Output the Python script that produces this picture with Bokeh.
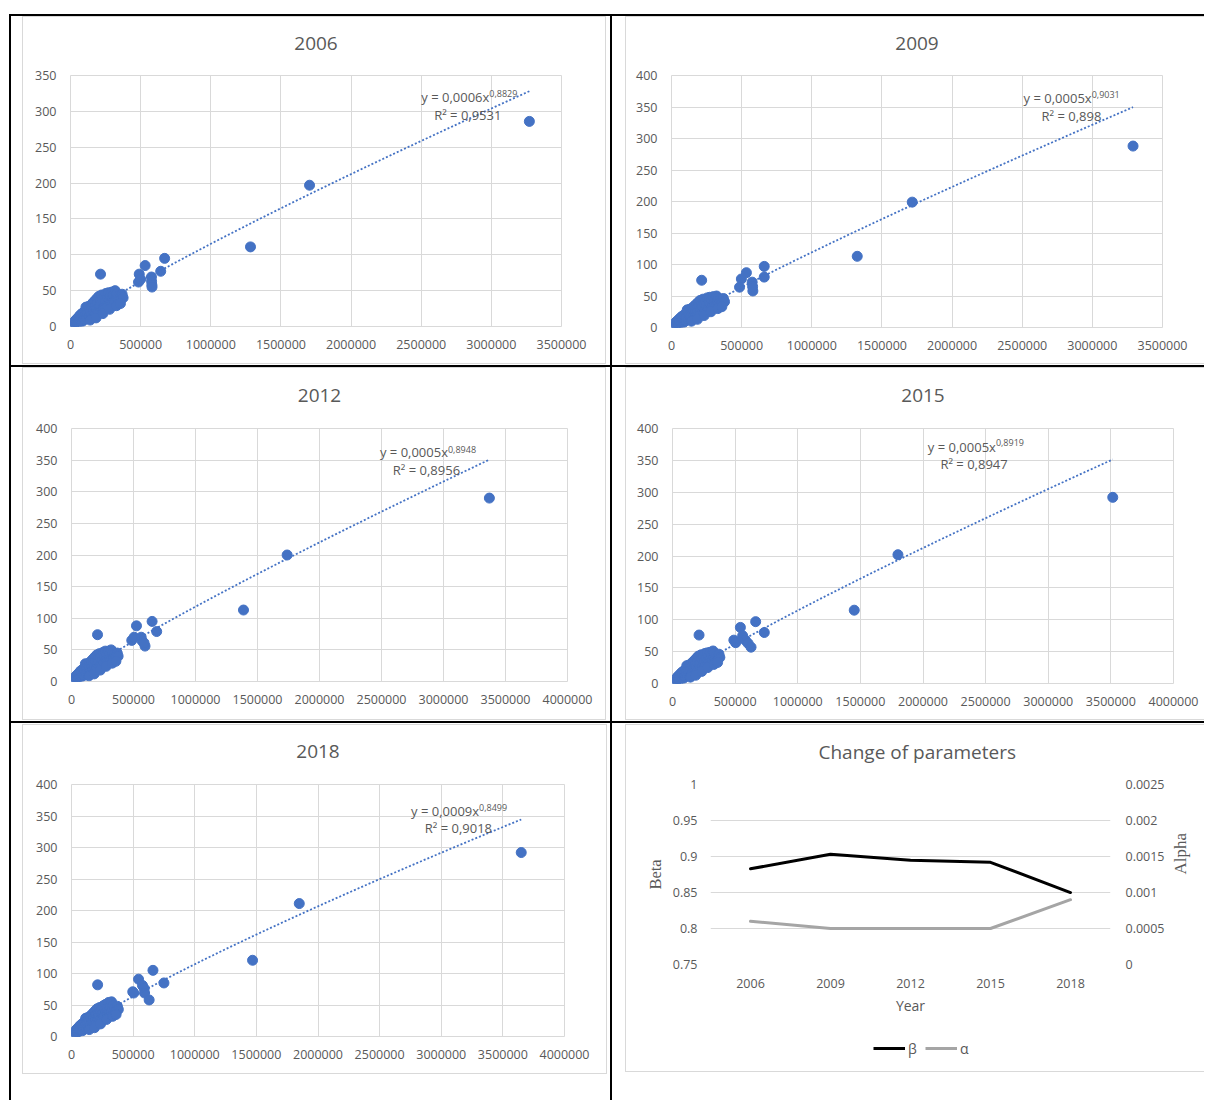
import math
import numpy as np
from bokeh.plotting import figure
from bokeh.models import (Range1d, LinearAxis, Legend, LegendItem, Label, Title,
                          FixedTicker, NumeralTickFormatter)
from bokeh.layouts import row, column
from bokeh.embed import file_html
from bokeh.resources import INLINE

FONT = "Open Sans"
SERIF = "Liberation Serif"
TXT = "#595959"
GRID = "#d9d9d9"
BLUE = "#4472c4"

# ---------------- data (x in thousands, y values) ----------------
x2006_k = [12, 18, 22, 28, 33, 38, 42, 48, 52, 57, 62, 66, 71, 75, 80, 84, 88, 93, 97, 102,
           106, 110, 114, 119, 123, 128, 132, 137, 141, 146, 150, 155, 160, 164, 169, 174, 178, 183, 188, 192,
           197, 202, 206, 211, 216, 222, 228, 234, 240, 246, 252, 258, 264, 270, 276, 282, 288, 294, 300, 306,
           312, 318, 324, 330, 338, 345, 352, 360, 368, 375, 140, 182, 231, 279, 328, 356,
           214, 490, 485, 500, 532, 577, 578, 580, 581, 643, 671, 1283, 1704, 3271]
y2006 = [3, 5, 2, 7, 4, 9, 6, 11, 5, 13, 8, 15, 10, 17, 12, 7, 19, 14, 10, 21,
         16, 27, 12, 23, 18, 28, 14, 25, 20, 30, 16, 27, 33, 22, 18, 36, 29, 24, 39, 33,
         20, 42, 28, 36, 31, 44, 38, 26, 41, 34, 46, 30, 40, 47, 36, 43, 33, 48, 39, 44,
         35, 50, 41, 46, 38, 43, 36, 41, 45, 40, 9, 12, 18, 24, 29, 32,
         73, 73, 62, 66, 85, 69, 63, 58, 55, 77, 95, 111, 197, 286]

x2009_k = [14, 19, 24, 29, 34, 39, 44, 49, 54, 58, 63, 67, 72, 77, 81, 86, 90, 95, 99, 104,
           108, 112, 117, 121, 126, 130, 135, 139, 144, 148, 153, 158, 162, 167, 172, 176, 181, 186, 190, 195,
           200, 204, 209, 214, 219, 225, 231, 237, 243, 249, 255, 261, 267, 273, 279, 285, 291, 297, 303, 309,
           315, 321, 327, 333, 340, 347, 354, 362, 370, 378, 142, 185, 233, 281, 330, 359,
           215, 498, 485, 534, 575, 580, 578, 661, 661, 1324, 1716, 3290]
y2009 = [4, 6, 2, 8, 5, 10, 6, 12, 6, 14, 9, 16, 11, 18, 13, 8, 20, 15, 11, 22,
         17, 28, 13, 24, 19, 29, 15, 26, 21, 31, 17, 28, 34, 23, 19, 37, 30, 25, 40, 34,
         21, 43, 29, 37, 32, 45, 39, 27, 42, 35, 47, 31, 41, 48, 37, 44, 34, 49, 40, 45,
         36, 50, 42, 47, 39, 44, 37, 42, 46, 41, 10, 13, 19, 25, 30, 33,
         75, 77, 64, 87, 72, 58, 65, 97, 80, 113, 199, 288]

x2012_k = [13, 18, 23, 28, 33, 38, 43, 48, 53, 58, 62, 67, 72, 76, 81, 85, 90, 94, 99, 103,
           108, 112, 116, 121, 125, 130, 134, 139, 143, 148, 152, 157, 162, 166, 171, 176, 180, 185, 190, 194,
           199, 204, 208, 213, 218, 224, 230, 236, 242, 248, 254, 260, 266, 272, 278, 284, 290, 296, 302, 308,
           314, 320, 326, 332, 339, 346, 353, 361, 369, 376, 141, 183, 232, 280, 329, 358,
           210, 486, 524, 505, 562, 570, 593, 585, 650, 687, 1387, 1739, 3370]
y2012 = [3, 5, 2, 7, 4, 9, 6, 11, 6, 13, 8, 15, 10, 17, 12, 8, 19, 14, 10, 21,
         16, 28, 12, 23, 18, 28, 14, 25, 20, 30, 16, 27, 33, 22, 18, 36, 29, 24, 39, 33,
         20, 42, 28, 36, 31, 44, 38, 26, 41, 34, 46, 30, 40, 48, 36, 43, 33, 48, 39, 44,
         35, 50, 41, 46, 38, 43, 36, 41, 45, 40, 9, 12, 18, 24, 29, 32,
         74, 65, 88, 70, 70, 64, 56, 61, 95, 79, 113, 200, 290]

x2015_k = [14, 19, 24, 29, 34, 39, 44, 49, 54, 59, 63, 68, 73, 78, 82, 87, 91, 96, 100, 105,
           109, 114, 118, 123, 127, 132, 136, 141, 145, 150, 155, 160, 164, 169, 174, 179, 183, 188, 193, 197,
           202, 207, 212, 217, 222, 228, 234, 240, 246, 252, 258, 264, 270, 276, 282, 288, 294, 300, 306, 312,
           318, 324, 330, 336, 343, 350, 357, 364, 371, 378, 143, 186, 234, 282, 331, 360,
           212, 490, 505, 542, 560, 581, 603, 627, 664, 733, 1451, 1800, 3515]
y2015 = [4, 6, 3, 8, 5, 10, 7, 12, 6, 14, 9, 16, 11, 18, 13, 8, 20, 15, 11, 22,
         17, 28, 13, 24, 19, 29, 15, 26, 21, 31, 17, 28, 34, 23, 19, 37, 30, 25, 40, 34,
         21, 43, 29, 37, 32, 45, 39, 27, 42, 35, 47, 31, 41, 48, 37, 44, 34, 49, 40, 45,
         36, 51, 42, 47, 39, 44, 37, 42, 46, 41, 10, 13, 19, 25, 30, 33,
         76, 68, 64, 88, 75, 68, 63, 57, 97, 80, 115, 202, 292]

x2018_k = [15, 20, 25, 30, 35, 40, 45, 50, 55, 60, 64, 69, 74, 79, 83, 88, 92, 97, 101, 106,
           110, 115, 119, 124, 128, 133, 137, 142, 146, 151, 156, 161, 165, 170, 175, 180, 184, 189, 194, 198,
           203, 208, 213, 218, 223, 229, 235, 241, 247, 253, 259, 265, 271, 277, 283, 289, 295, 301, 307, 313,
           319, 325, 331, 337, 344, 351, 358, 365, 372, 380, 144, 187, 236, 284, 333, 362,
           212, 497, 505, 544, 576, 590, 593, 630, 661, 750, 1469, 1848, 3649]
y2018 = [4, 6, 3, 9, 5, 11, 7, 13, 7, 15, 10, 17, 12, 19, 14, 9, 21, 16, 12, 23,
         18, 29, 14, 25, 20, 30, 16, 27, 22, 32, 18, 29, 35, 24, 20, 38, 31, 26, 41, 35,
         22, 44, 30, 38, 33, 46, 40, 28, 44, 36, 49, 32, 43, 51, 39, 46, 36, 54, 42, 47,
         38, 55, 44, 49, 41, 46, 39, 44, 48, 43, 11, 14, 20, 27, 32, 35,
         82, 71, 69, 91, 81, 76, 69, 58, 105, 85, 121, 211, 292]

# power trendline parameters y = a * x^b
trend_a = [0.000581, 0.000455, 0.000506, 0.00051, 0.000912]
trend_b = [0.8829, 0.9031, 0.8948, 0.8919, 0.8499]
eq_texts = ["y = 0,0006x", "y = 0,0005x", "y = 0,0005x", "y = 0,0005x", "y = 0,0009x"]
exp_texts = ["0,8829", "0,9031", "0,8948", "0,8919", "0,8499"]
r2_texts = ["R² = 0,9531", "R² = 0,898", "R² = 0,8956", "R² = 0,8947", "R² = 0,9018"]

# parameter chart
years = [2006, 2009, 2012, 2015, 2018]
beta = [0.8829, 0.9031, 0.8948, 0.8919, 0.8499]
alpha = [0.0006, 0.0005, 0.0005, 0.0005, 0.0009]

x_ticks_35 = [0, 500000, 1000000, 1500000, 2000000, 2500000, 3000000, 3500000]
x_ticks_40 = [0, 500000, 1000000, 1500000, 2000000, 2500000, 3000000, 3500000, 4000000]
y_ticks_350 = [0, 50, 100, 150, 200, 250, 300, 350]
y_ticks_400 = [0, 50, 100, 150, 200, 250, 300, 350, 400]
beta_ticks = [0.75, 0.8, 0.85, 0.9, 0.95, 1.0]
alpha_ticks = [0, 0.0005, 0.001, 0.0015, 0.002, 0.0025]


def style_axis(ax, standoff, size="12.5px"):
    ax.axis_line_color = None
    ax.major_tick_line_color = None
    ax.minor_tick_line_color = None
    ax.major_label_text_font = FONT
    ax.major_label_text_font_size = size
    ax.major_label_text_color = TXT
    ax.major_label_standoff = standoff


def spacer(gap):
    return Title(text=".", text_font_size="1px", text_color="white", standoff=gap)


def add_title(p, text, gap, align="center", offset=0):
    p.title.text = ""
    p.add_layout(spacer(gap), "above")
    p.add_layout(Title(text=text, align=align, offset=offset, text_font=FONT,
                       text_font_size="19px", text_font_style="normal", text_color=TXT,
                       standoff=0), "above")


def scatter_panel(i, title, xk, yv, xticks, yticks, fw, fh, bl, br, bt, bb,
                  eq_xy, exp_y, r2_xy, tgap):
    xs = [v * 1000 for v in xk]
    p = figure(output_backend="svg", toolbar_location=None,
               frame_width=fw, frame_height=fh,
               min_border_left=bl, min_border_right=br,
               min_border_top=bt, min_border_bottom=bb,
               x_range=Range1d(0, xticks[-1]), y_range=Range1d(0, yticks[-1]))
    p.background_fill_color = "white"
    p.border_fill_color = "white"
    p.outline_line_color = GRID
    add_title(p, title, tgap)
    xt = FixedTicker(ticks=xticks)
    yt = FixedTicker(ticks=yticks)
    p.xaxis[0].ticker = xt
    p.yaxis[0].ticker = yt
    p.xgrid[0].ticker = xt
    p.ygrid[0].ticker = yt
    p.xaxis[0].formatter = NumeralTickFormatter(format="0")
    p.yaxis[0].formatter = NumeralTickFormatter(format="0")
    style_axis(p.xaxis[0], 7)
    style_axis(p.yaxis[0], 8)
    for g in (p.xgrid[0], p.ygrid[0]):
        g.grid_line_color = GRID
        g.grid_line_width = 1
    p.scatter(xs, yv, size=10, fill_color=BLUE, line_color=BLUE)
    tx = np.linspace(min(xs), max(xs), 120)
    ty = trend_a[i] * tx ** trend_b[i]
    p.line(tx, ty, line_color=BLUE, line_width=1.8, line_dash="2 2")
    p.add_layout(Label(x=eq_xy[0], y=eq_xy[1], text=eq_texts[i], text_align="right",
                       text_baseline="middle", text_font=FONT, text_font_size="13px",
                       text_color=TXT))
    p.add_layout(Label(x=eq_xy[0], y=exp_y, text=exp_texts[i], text_align="left",
                       text_baseline="middle", text_font=FONT, text_font_size="9px",
                       text_color=TXT))
    p.add_layout(Label(x=r2_xy[0], y=r2_xy[1], text=r2_texts[i], text_align="center",
                       text_baseline="middle", text_font=FONT, text_font_size="13px",
                       text_color=TXT))
    return p


p1 = scatter_panel(0, "2006", x2006_k, y2006, x_ticks_35, y_ticks_350, 491, 251, 47, 44, 58, 37,
                   (2985700, 320.6), 325.2, (2832000, 295), 23)
p2 = scatter_panel(1, "2009", x2009_k, y2009, x_ticks_35, y_ticks_400, 491, 252, 45, 42, 58, 36,
                   (2995000, 363.9), 369.8, (2851000, 336.4), 23)
p3 = scatter_panel(2, "2012", x2012_k, y2012, x_ticks_40, y_ticks_400, 496, 253, 48, 38, 60, 38,
                   (3036000, 363.2), 367.4, (2862600, 334.2), 24)
p4 = scatter_panel(3, "2015", x2015_k, y2015, x_ticks_40, y_ticks_400, 501, 255, 46, 31, 60, 36,
                   (2582000, 371.4), 378.1, (2407800, 344.2), 24)
p5 = scatter_panel(4, "2018", x2018_k, y2018, x_ticks_40, y_ticks_400, 493, 252, 48, 42, 59, 37,
                   (3307000, 357.5), 363.9, (3139000, 330.5), 24)

# ---------------- parameter chart ----------------
p6 = figure(output_backend="svg", toolbar_location=None,
            width=578, height=294,
            min_border_left=84, min_border_right=94, min_border_top=59, min_border_bottom=55,
            x_range=Range1d(2004.5, 2019.5), y_range=Range1d(0.75, 1.0))
p6.extra_y_ranges = {"alpha": Range1d(0, 0.0025)}
p6.background_fill_color = "white"
p6.border_fill_color = "white"
p6.outline_line_color = None
add_title(p6, "Change of parameters", 17, align="left", offset=108)
p6.xgrid[0].visible = False
bt_ticker = FixedTicker(ticks=beta_ticks)
p6.yaxis[0].ticker = bt_ticker
p6.ygrid[0].ticker = bt_ticker
p6.ygrid[0].grid_line_color = GRID
p6.yaxis[0].formatter = NumeralTickFormatter(format="0.[00]")
p6.xaxis[0].ticker = FixedTicker(ticks=years)
p6.xaxis[0].formatter = NumeralTickFormatter(format="0")
style_axis(p6.xaxis[0], 8)
style_axis(p6.yaxis[0], 7)
p6.xaxis[0].axis_label = "Year"
p6.xaxis[0].axis_label_text_font = FONT
p6.xaxis[0].axis_label_text_font_size = "14px"
p6.xaxis[0].axis_label_text_font_style = "normal"
p6.xaxis[0].axis_label_text_color = TXT
p6.xaxis[0].axis_label_standoff = 5
p6.yaxis[0].axis_label = "Beta"
p6.yaxis[0].axis_label_text_font = SERIF
p6.yaxis[0].axis_label_text_font_size = "16.5px"
p6.yaxis[0].axis_label_text_font_style = "normal"
p6.yaxis[0].axis_label_text_color = TXT
p6.yaxis[0].axis_label_standoff = 5

ax_r = LinearAxis(y_range_name="alpha", ticker=FixedTicker(ticks=alpha_ticks),
                  formatter=NumeralTickFormatter(format="0.[0000]"))
style_axis(ax_r, 9)
ax_r.axis_label = "Alpha"
ax_r.axis_label_text_font = SERIF
ax_r.axis_label_text_font_size = "17px"
ax_r.axis_label_text_font_style = "normal"
ax_r.axis_label_text_color = TXT
ax_r.axis_label_standoff = 13
try:
    ax_r.axis_label_orientation = math.pi / 2
except Exception:
    pass
p6.add_layout(ax_r, "right")

p6.line(years, beta, line_color="black", line_width=3, line_join="round", line_cap="round")
p6.line(years, alpha, line_color="#a5a5a5", line_width=3, line_join="round",
        line_cap="round", y_range_name="alpha")

# legend strip of the parameter chart (the series lie outside its view; only the keys show)
pl = figure(output_backend="svg", toolbar_location=None, width=578, height=52,
            min_border=0, x_axis_type=None, y_axis_type=None,
            x_range=Range1d(0, 1), y_range=Range1d(0, 1))
pl.outline_line_color = None
pl.background_fill_color = "white"
pl.border_fill_color = "white"
pl.title.text = ""
kb = pl.line(years, beta, line_color="black", line_width=3)
ka = pl.line(years, alpha, line_color="#a5a5a5", line_width=3)
leg = Legend(items=[LegendItem(label="β", renderers=[kb]), LegendItem(label="α", renderers=[ka])],
             orientation="horizontal", location=(163, 13), glyph_width=32, glyph_height=20,
             label_standoff=3, label_width=9, spacing=8, padding=0, margin=0,
             label_text_font=FONT, label_text_font_size="14px", label_text_color=TXT,
             border_line_color=None, background_fill_alpha=0)
pl.add_layout(leg)


# ---------------- page layout ----------------
def cell(figs, inner_margin, box_w, box_h, box_margin, w, h):
    inner = column(*figs, margin=inner_margin, styles={"background-color": "white"})
    box = column(inner, width=box_w, height=box_h, margin=box_margin,
                 styles={"background-color": GRID})
    return column(box, width=w, height=h, styles={"background-color": "white"})


c1 = cell([p1], (1, 1, 1, 1), 584, 348, (0, 4, 1, 11), 599, 349)
c2 = cell([p2], (1, 0, 1, 1), 579, 348, (0, 0, 1, 13), 592, 349)
c3 = cell([p3], (1, 1, 1, 1), 584, 353, (0, 4, 1, 11), 599, 354)
c4 = cell([p4], (1, 0, 1, 1), 579, 353, (0, 0, 1, 13), 592, 354)
c5 = cell([p5], (1, 1, 1, 1), 585, 350, (1, 3, 26, 11), 599, 377)
c6 = cell([p6, pl], (1, 0, 1, 1), 579, 348, (1, 0, 28, 13), 592, 377)

root = column(row(c1, c2, spacing=2), row(c3, c4, spacing=2), row(c5, c6, spacing=2),
              spacing=2, margin=(14, 0, 0, 9),
              styles={"background-color": "black", "padding": "2px 0px 0px 2px"})

open("out.html", "w").write(file_html(root, INLINE))
